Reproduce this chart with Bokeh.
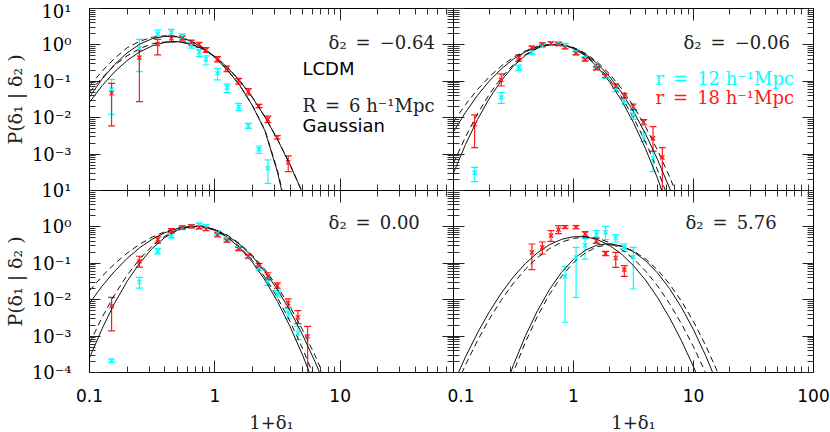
import math
from bokeh.plotting import figure
from bokeh.models import (LogAxis, FixedTicker, CustomJSTickFormatter, Label,
                          Whisker, TeeHead, ColumnDataSource, Range1d)
from bokeh.layouts import row, column
from bokeh.embed import file_html
from bokeh.resources import INLINE

# ---------------- ticks ----------------
Y_MAJOR = [1e-4, 1e-3, 1e-2, 1e-1, 1.0, 10.0]
Y_MINOR = [m * d for d in (1e-4, 1e-3, 1e-2, 1e-1, 1.0) for m in range(2, 10)]
X_MAJOR = [0.1, 1.0, 10.0, 100.0]
X_MINOR = [m * d for d in (0.1, 1.0, 10.0) for m in range(2, 10)]
Y_LABELS = ["10⁻⁴", "10⁻³", "10⁻²", "10⁻¹", "10⁰", "10¹"]
Y_LABELS_TOP = ["", "10⁻³", "10⁻²", "10⁻¹", "10⁰", "10¹"]
X_LABELS = ["0.1", "1", "10", "100"]

# ---------------- measured points (1+delta1, P, lower, upper) ----------------
TL_CYAN_X = [0.15, 0.25, 0.35, 0.45, 0.55, 0.65, 0.75, 0.85, 1.05, 1.25, 1.55, 1.85, 2.25, 2.65]
TL_CYAN_Y = [0.060, 0.80, 1.99, 2.17, 1.68, 0.99, 0.625, 0.40, 0.166, 0.067, 0.020, 0.0060, 0.00135, 0.00041]
TL_CYAN_LO = [0.0124, 0.184, 1.61, 1.75, 1.42, 0.81, 0.475, 0.28, 0.109, 0.049, 0.0156, 0.0051, 0.00105, 0.000157]
TL_CYAN_HI = [0.113, 1.42, 2.56, 2.68, 2.0, 1.17, 0.755, 0.50, 0.227, 0.084, 0.0248, 0.0070, 0.00167, 0.00069]

TL_RED_X = [0.15, 0.25, 0.35, 0.45, 0.55, 0.65, 0.75, 0.85, 1.05, 1.25, 1.55, 1.85, 2.25, 2.65, 3.15, 3.85]
TL_RED_Y = [0.047, 0.446, 1.06, 1.51, 1.51, 1.17, 1.03, 0.72, 0.40, 0.227, 0.104, 0.052, 0.021, 0.0090, 0.0029, 0.00059]
TL_RED_LO = [0.0060, 0.0276, 0.53, 1.23, 1.27, 1.0, 0.86, 0.625, 0.34, 0.184, 0.084, 0.042, 0.0189, 0.0073, 0.0026, 0.00033]
TL_RED_HI = [0.088, 0.695, 1.42, 1.76, 1.78, 1.36, 1.17, 0.84, 0.475, 0.263, 0.121, 0.063, 0.0233, 0.0111, 0.0032, 0.00089]

TR_CYAN_X = [0.15, 0.25, 0.35, 0.45, 0.55, 0.65, 0.75, 0.85, 1.05, 1.25, 1.55, 1.85, 2.25, 2.65, 3.15, 3.85, 4.6]
TR_CYAN_Y = [0.00031, 0.0363, 0.242, 0.625, 0.93, 1.10, 1.10, 0.99, 0.65, 0.43, 0.242, 0.134, 0.0615, 0.0294, 0.0119, 0.0030, 0.00077]
TR_CYAN_LO = [0.000175, 0.0248, 0.196, 0.55, 0.86, 0.97, 0.97, 0.89, 0.56, 0.385, 0.218, 0.121, 0.0519, 0.0238, 0.009, 0.0022, 0.00033]
TR_CYAN_HI = [0.00043, 0.0488, 0.28, 0.72, 1.04, 1.23, 1.23, 1.10, 0.755, 0.475, 0.263, 0.149, 0.0743, 0.0363, 0.0156, 0.0041, 0.00117]

TR_RED_X = [0.15, 0.25, 0.35, 0.45, 0.55, 0.65, 0.75, 0.85, 1.05, 1.25, 1.55, 1.85, 2.25, 2.65, 3.15, 3.85, 4.6, 5.5]
TR_RED_Y = [0.0066, 0.109, 0.446, 0.84, 1.04, 1.10, 1.04, 0.86, 0.59, 0.40, 0.227, 0.14, 0.0743, 0.0394, 0.020, 0.0075, 0.0027, 0.00081]
TR_RED_LO = [0.0015, 0.0743, 0.36, 0.755, 0.95, 1.0, 0.95, 0.78, 0.53, 0.36, 0.205, 0.127, 0.065, 0.034, 0.0168, 0.0063, 0.0012, 0.00008]
TR_RED_HI = [0.0119, 0.159, 0.53, 0.93, 1.13, 1.20, 1.13, 0.95, 0.67, 0.44, 0.25, 0.155, 0.085, 0.047, 0.0238, 0.0088, 0.0057, 0.0015]

BL_CYAN_X = [0.15, 0.25, 0.35, 0.45, 0.55, 0.65, 0.75, 0.85, 1.05, 1.25, 1.55, 1.85, 2.25, 2.65, 3.15, 3.85, 4.6]
BL_CYAN_Y = [0.00021, 0.0306, 0.213, 0.575, 0.93, 1.04, 1.15, 1.04, 0.68, 0.475, 0.263, 0.149, 0.0743, 0.0306, 0.0144, 0.0043, 0.0012]
BL_CYAN_LO = [0.00019, 0.0209, 0.18, 0.50, 0.84, 0.94, 1.03, 0.94, 0.61, 0.43, 0.237, 0.134, 0.063, 0.0248, 0.0117, 0.0030, 0.0008]
BL_CYAN_HI = [0.000235, 0.0412, 0.252, 0.65, 1.03, 1.15, 1.27, 1.15, 0.75, 0.52, 0.29, 0.166, 0.087, 0.0378, 0.0178, 0.0057, 0.00186]

BL_RED_X = [0.15, 0.25, 0.35, 0.45, 0.55, 0.65, 0.75, 0.85, 1.05, 1.25, 1.55, 1.85, 2.25, 2.65, 3.15, 3.85, 4.6, 5.5]
BL_RED_Y = [0.0066, 0.113, 0.447, 0.79, 0.97, 1.04, 0.97, 0.875, 0.61, 0.42, 0.247, 0.155, 0.086, 0.0438, 0.0243, 0.0081, 0.0033, 0.00099]
BL_RED_LO = [0.0014, 0.079, 0.36, 0.69, 0.88, 0.94, 0.88, 0.79, 0.53, 0.38, 0.222, 0.139, 0.075, 0.035, 0.020, 0.0062, 0.0022, 0.00008]
BL_RED_HI = [0.0116, 0.156, 0.53, 0.90, 1.07, 1.15, 1.07, 0.97, 0.70, 0.47, 0.275, 0.173, 0.10, 0.055, 0.029, 0.0106, 0.0050, 0.00186]

BR_RED_X = [0.45, 0.55, 0.65, 0.75, 0.85, 1.05, 1.25, 1.55, 1.85, 2.25, 2.65]
BR_RED_Y = [0.20, 0.275, 0.575, 0.84, 0.99, 0.99, 0.64, 0.42, 0.184, 0.14, 0.0668]
BR_RED_LO = [0.0668, 0.18, 0.40, 0.65, 0.91, 0.90, 0.55, 0.354, 0.162, 0.0776, 0.0438]
BR_RED_HI = [0.339, 0.385, 0.79, 1.08, 1.08, 1.09, 0.74, 0.50, 0.213, 0.20, 0.086]

BR_CYAN_X = [0.85, 1.05, 1.25, 1.55, 1.85, 2.25, 2.65, 3.15]
BR_CYAN_Y = [0.0438, 0.146, 0.312, 0.61, 0.71, 0.495, 0.275, 0.149]
BR_CYAN_LO = [0.0024, 0.0116, 0.131, 0.495, 0.446, 0.385, 0.213, 0.0197]
BR_CYAN_HI = [0.0826, 0.275, 0.475, 0.79, 1.04, 0.61, 0.34, 0.275]

# ---------------- model curves: log10 P ----------------
CURVE_X = [0.1, 0.1259, 0.1585, 0.1995, 0.2512, 0.3162, 0.3981, 0.5012, 0.631, 0.7943,
           1.0, 1.259, 1.585, 1.995, 2.512, 3.162, 3.981, 5.012, 6.31, 7.943,
           10.0, 12.59, 15.85, 19.95]
N = None
TL_R12_SOLID = [-1.43, -0.94, -0.54, -0.22, 0.02, 0.17, 0.236, 0.22, 0.12, -0.07, -0.34, -0.69, -1.12, -1.67, -2.36, -3.5, -5.0]
TL_R12_DASH = [-1.13, -0.72, -0.37, -0.08, 0.10, 0.21, 0.25, 0.23, 0.125, -0.065, -0.335, -0.685, -1.11, -1.66, -2.34, -3.45, -4.9]
TL_R18_SOLID = [-1.575, -1.121, -0.739, -0.43, -0.192, -0.027, 0.067, 0.088, 0.032, -0.104, -0.32, -0.616, -0.992, -1.448, -1.984, -2.60, -3.296, -4.07, -4.9]
TL_R18_DASH = [-1.30, -0.90, -0.56, -0.30, -0.10, 0.03, 0.08, 0.09, 0.035, -0.10, -0.315, -0.61, -0.985, -1.44, -1.975, -2.59, -3.285, -4.06, -4.89]

TR_R12_SOLID = [-3.52, -2.736, -2.05, -1.462, -0.972, -0.58, -0.286, -0.09, 0.008, 0.007, -0.095, -0.299, -0.605, -1.013, -1.523, -2.135, -2.849, -3.665, -4.583]
TR_R12_DASH = [-3.25, -2.528, -1.894, -1.35, -0.897, -0.535, -0.263, -0.082, 0.009, 0.008, -0.088, -0.279, -0.566, -0.948, -1.426, -2.0, -2.669, -3.434, -4.294]
TR_R18_SOLID = [-2.385, -1.853, -1.387, -0.987, -0.654, -0.388, -0.188, -0.055, 0.012, 0.009, -0.079, -0.254, -0.517, -0.867, -1.305, -1.831, -2.444, -3.145, -3.933, -4.81]
TR_R18_DASH = [-2.11, -1.639, -1.226, -0.872, -0.577, -0.341, -0.164, -0.046, 0.013, 0.01, -0.071, -0.232, -0.474, -0.796, -1.199, -1.683, -2.247, -2.892, -3.617, -4.423]

BL_R12_SOLID = [-3.60, -2.798, -2.097, -1.496, -0.995, -0.594, -0.293, -0.093, 0.007, 0.008, -0.09, -0.286, -0.58, -0.972, -1.462, -2.05, -2.736, -3.52, -4.402]
BL_R12_DASH = [-3.20, -2.489, -1.864, -1.329, -0.883, -0.526, -0.259, -0.08, 0.009, 0.008, -0.085, -0.271, -0.55, -0.922, -1.387, -1.945, -2.596, -3.34, -4.177]
BL_R18_SOLID = [-2.097, -1.628, -1.218, -0.866, -0.573, -0.339, -0.163, -0.046, 0.013, 0.01, -0.073, -0.238, -0.486, -0.816, -1.229, -1.725, -2.303, -2.964, -3.707, -4.533]
BL_R18_DASH = [-1.75, -1.358, -1.015, -0.721, -0.476, -0.28, -0.133, -0.035, 0.014, 0.01, -0.069, -0.226, -0.463, -0.778, -1.172, -1.645, -2.196, -2.827, -3.536, -4.324]

BR_LOW_SOLID = [-4.306, -3.572, -2.912, -2.324, -1.811, -1.37, -1.003, -0.71, -0.489, -0.343, -0.269, -0.27, -0.349, -0.508, -0.746, -1.064, -1.461, -1.937, -2.493, -3.128, -3.843, -4.637]
BR_LOW_DASH = [-4.527, -3.79, -3.123, -2.526, -2.0, -1.544, -1.158, -0.842, -0.596, -0.42, -0.315, -0.28, -0.317, -0.429, -0.615, -0.875, -1.21, -1.619, -2.103, -2.661, -3.293, -4.0, -4.781]
BR_HIGH_SOLID = [N, N, N, N, -4.696, -3.788, -2.989, -2.30, -1.72, -1.25, -0.889, -0.637, -0.495, -0.462, -0.526, -0.681, -0.927, -1.264, -1.693, -2.213, -2.824, -3.526, -4.32]
BR_HIGH_DASH = [N, N, N, N, -4.905, -3.978, -3.161, -2.452, -1.853, -1.362, -0.981, -0.708, -0.545, -0.49, -0.533, -0.662, -0.878, -1.18, -1.568, -2.042, -2.602, -3.248, -3.981, -4.8]

SERIF = "DejaVu Serif"
SANS = "DejaVu Sans"
CYAN = "#00FFFF"
RED = "#FF1A1A"
TEXT = "#222222"
SP = "\u2002"


def fmt(labels, offset):
    return CustomJSTickFormatter(args=dict(labels=labels, offset=offset), code="""
        const i = Math.round(Math.log10(tick)) - offset;
        return (i >= 0 && i < labels.length) ? labels[i] : "";
    """)


def style_axis(ax, major, minor, tick_len, labels=None, offset=0, font=SANS, standoff=0, size="18px"):
    ax.ticker = FixedTicker(ticks=major, minor_ticks=minor)
    ax.major_tick_in = tick_len
    ax.major_tick_out = 0
    ax.minor_tick_in = 6
    ax.minor_tick_out = 0
    ax.axis_line_color = "black"
    ax.major_tick_line_color = "#222222"
    ax.minor_tick_line_color = "#333333"
    if labels is None:
        ax.formatter = CustomJSTickFormatter(code="return '';")
        ax.major_label_text_font_size = "0px"
        ax.major_label_standoff = 0
    else:
        ax.formatter = fmt(labels, offset)
        ax.major_label_text_font = font
        ax.major_label_text_font_size = size
        ax.major_label_text_color = "black"
        ax.major_label_standoff = standoff


def build(x_end, frame_w, b_left, b_right, b_top, b_bottom, ylabels, xlabels, margin):
    p = figure(x_axis_type="log", y_axis_type="log",
               x_range=Range1d(0.1, x_end), y_range=Range1d(1e-4, 10),
               frame_width=frame_w, frame_height=182,
               min_border_left=b_left, min_border_right=b_right,
               min_border_top=b_top, min_border_bottom=b_bottom,
               output_backend="svg", toolbar_location=None,
               border_fill_color=None, background_fill_color="white",
               outline_line_color="black", margin=margin)
    p.grid.visible = False
    p.add_layout(LogAxis(), "above")
    p.add_layout(LogAxis(), "right")
    style_axis(p.below[0], X_MAJOR, X_MINOR, 12, xlabels, -1, SANS, 16, "17px")
    style_axis(p.above[0], X_MAJOR, X_MINOR, 12)
    style_axis(p.left[0], Y_MAJOR, Y_MINOR, 11, ylabels, -4, SERIF, 18, "18px")
    style_axis(p.right[0], Y_MAJOR, Y_MINOR, 11)
    if ylabels is not None:
        ax = p.left[0]
        ax.axis_label = "P(δ₁ | δ₂ )"
        ax.axis_label_text_font = SERIF
        ax.axis_label_text_font_size = "19px"
        ax.axis_label_text_font_style = "normal"
        ax.axis_label_text_color = TEXT
        ax.axis_label_standoff = 3
    if xlabels is not None:
        ax = p.below[0]
        ax.axis_label = "1+δ₁"
        ax.axis_label_text_font = SERIF
        ax.axis_label_text_font_size = "18px"
        ax.axis_label_text_font_style = "normal"
        ax.axis_label_text_color = TEXT
        ax.axis_label_standoff = 7
    return p


def curve(p, logvals, dashed):
    ys = [float("nan") if v is None else 10 ** v for v in logvals]
    p.line(CURVE_X[:len(ys)], ys, line_color="#111111", line_width=1,
           line_dash="6 4" if dashed else "solid")


def points(p, xs, ys, lo, hi, color):
    src = ColumnDataSource(dict(x=xs, y=ys, lo=lo, hi=hi))
    p.add_layout(Whisker(source=src, base="x", upper="hi", lower="lo", dimension="height",
                         line_color=color, line_width=1.2,
                         upper_head=TeeHead(size=7, line_color=color, line_width=1.2),
                         lower_head=TeeHead(size=7, line_color=color, line_width=1.2)))
    p.scatter("x", "y", source=src, marker="x", size=6, line_color=color, line_width=1.3)


def text(p, x, y, s, font=SERIF, color=TEXT, size="18px"):
    p.add_layout(Label(x=x, y=y, text=s, text_font=font, text_font_size=size,
                       text_color=color, text_align="left", text_baseline="middle"))


LEFT_XEND = 80.2

tl = build(LEFT_XEND, 364, 86, 6, 8, 6, Y_LABELS_TOP, None, None)
tr = build(100.0, 360, 6, 20, 8, 6, None, None, (0, 0, 0, -12))
bl = build(LEFT_XEND, 364, 86, 6, 12, 60, Y_LABELS, X_LABELS, None)
br = build(100.0, 360, 6, 20, 12, 60, None, X_LABELS, (0, 0, 0, -12))

for p, curves in ((tl, (TL_R12_SOLID, TL_R12_DASH, TL_R18_SOLID, TL_R18_DASH)),
                  (tr, (TR_R12_SOLID, TR_R12_DASH, TR_R18_SOLID, TR_R18_DASH)),
                  (bl, (BL_R12_SOLID, BL_R12_DASH, BL_R18_SOLID, BL_R18_DASH)),
                  (br, (BR_LOW_SOLID, BR_LOW_DASH, BR_HIGH_SOLID, BR_HIGH_DASH))):
    curve(p, curves[0], False)
    curve(p, curves[1], True)
    curve(p, curves[2], False)
    curve(p, curves[3], True)

points(tl, TL_CYAN_X, TL_CYAN_Y, TL_CYAN_LO, TL_CYAN_HI, CYAN)
points(tl, TL_RED_X, TL_RED_Y, TL_RED_LO, TL_RED_HI, RED)
points(tr, TR_CYAN_X, TR_CYAN_Y, TR_CYAN_LO, TR_CYAN_HI, CYAN)
points(tr, TR_RED_X, TR_RED_Y, TR_RED_LO, TR_RED_HI, RED)
points(bl, BL_CYAN_X, BL_CYAN_Y, BL_CYAN_LO, BL_CYAN_HI, CYAN)
points(bl, BL_RED_X, BL_RED_Y, BL_RED_LO, BL_RED_HI, RED)
points(br, BR_RED_X, BR_RED_Y, BR_RED_LO, BR_RED_HI, RED)
points(br, BR_CYAN_X, BR_CYAN_Y, BR_CYAN_LO, BR_CYAN_HI, CYAN)

text(tl, 8.08, 1.2, "δ₂" + SP + "=" + SP + "−0.64")
text(tl, 5.0, 0.218, "LCDM", font=SANS, color="black")
text(tl, 5.0, 0.0223, "R" + SP + "=" + SP + "6 h⁻¹Mpc")
text(tl, 5.0, 0.0063, "Gaussian", font=SANS, color="black")
text(tr, 8.26, 1.2, "δ₂" + SP + "=" + SP + "−0.06")
text(tr, 4.82, 0.123, "r" + SP + "=" + SP + "12 h⁻¹Mpc", color=CYAN)
text(tr, 4.82, 0.037, "r" + SP + "=" + SP + "18 h⁻¹Mpc", color=RED)
text(bl, 8.08, 1.36, "δ₂" + SP + "=" + SP + "0.00")
text(br, 8.58, 1.36, "δ₂" + SP + "=" + SP + "5.76")

layout = column(row(tl, tr), row(bl, br, margin=(-18, 0, 0, 0)))

open("out.html", "w").write(file_html(layout, INLINE))
